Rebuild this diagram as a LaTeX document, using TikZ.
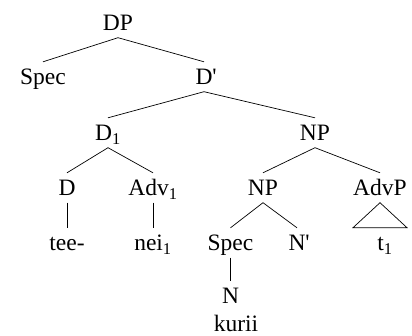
\documentclass[tikz,border=0pt]{standalone}
\usepackage{fontspec}
\setmainfont{Liberation Serif}
\begin{document}
\begin{tikzpicture}[cat/.style={anchor=base,inner xsep=0pt,inner ysep=7bp,text height=15.5bp,text depth=0pt,font=\fontsize{23.5bp}{28bp}\selectfont},
	branch/.style={line width=0.7bp}]
		%%
  \useasboundingbox (0bp,-1.5bp) rectangle (412bp,334.5bp);
  \node (DP) at (118bp,304bp) [cat] {DP};
  \node (Spec) at (43bp,250bp) [cat] {Spec};
  \node (Dbar) at (204bp,250bp) [cat] {D\rlap{\textquotesingle}};
  \node (D1) at (108bp,194bp) [cat] {D\textsubscript{1}};
  \node (NP) at (315bp,194bp) [cat] {NP};
  \node (D) at (67bp,139bp) [cat] {D};
  \node (Adv1) at (153bp,139bp) [cat] {Adv\textsubscript{1}};
  \node (NPlow) at (263bp,139bp) [cat] {NP};
  \node (AdvP) at (380bp,139bp) [cat] {AdvP};
  \node (tee) at (67bp,84bp) [cat] {tee-};
  \node (nei1) at (153bp,84bp) [cat] {nei\textsubscript{1}};
  \node (SpecN) at (230.5bp,84bp) [cat] {Spec};
  \node (Nbar) at (297bp,84bp) [cat] {N\rlap{\textquotesingle}};
  \node (t1) at (385bp,84bp) [cat] {t\textsubscript{1}};
  \node (N) at (230.5bp,31bp) [cat] {N};
  \node (kurii) at (236bp,3bp) [cat] {kurii};
  \draw [branch] (DP.south) -- (Spec.north);
  \draw [branch] (DP.south) -- (Dbar.north);
  \draw [branch] (Dbar.south) -- (D1.north);
  \draw [branch] (Dbar.south) -- (NP.north);
  \draw [branch] (D1.south) -- (D.north);
  \draw [branch] (D1.south) -- (Adv1.north);
  \draw [branch] (NP.south) -- (NPlow.north);
  \draw [branch] (NP.south) -- (AdvP.north);
  \draw [branch] (D.south) -- (tee.north);
  \draw [branch] (Adv1.south) -- (nei1.north);
  \draw [branch] (NPlow.south) -- (SpecN.north);
  \draw [branch] (NPlow.south) -- (Nbar.north);
  \draw [branch] (SpecN.south) -- (N.north);
  \draw [branch] (AdvP.south) -- ++(-27bp,-25bp) -- ++(54bp,0bp) -- cycle;
		%
	\end{tikzpicture}
\end{document}
